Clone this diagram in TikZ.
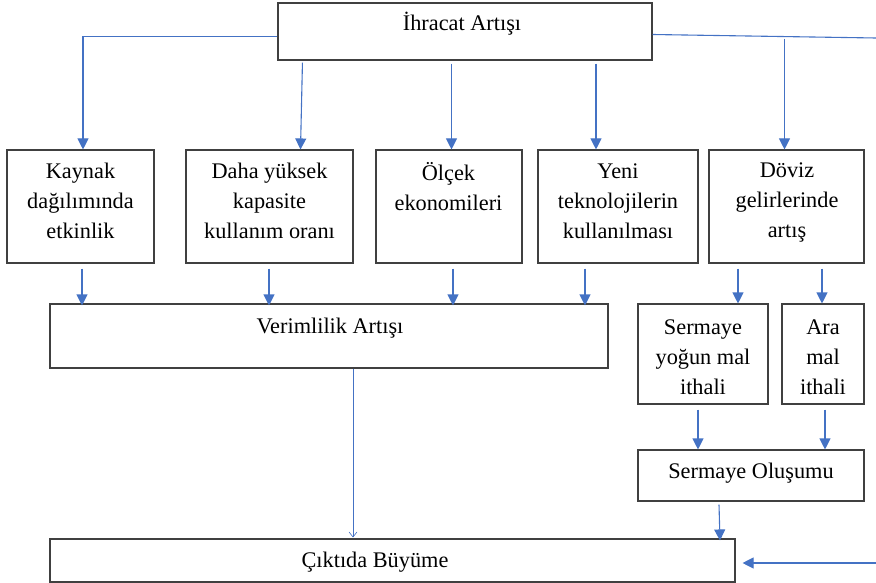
\documentclass[tikz,border=0pt]{standalone}
\usepackage{fontspec}
\setmainfont{Liberation Serif}
\usetikzlibrary{arrows.meta,calc}
\definecolor{arrblue}{HTML}{4472C4}
\definecolor{boxgray}{HTML}{404040}
\begin{document}
\begin{tikzpicture}[x=1pt,y=-1pt,
  box/.style={draw=boxgray, line width=1.1pt, inner sep=0pt, rectangle},
  txt/.style={align=center, inner sep=0pt, font=\fontsize{22.3}{30}\selectfont},
  arr/.style={draw=arrblue, line width=1.1pt, -{Triangle[width=11pt,length=11pt]}},
  thinarr/.style={draw=arrblue, line width=0.6pt, -{Straight Barb[width=8pt,length=5pt]}},
  ln/.style={draw=arrblue, line width=1.1pt}]
\useasboundingbox (0,0) rectangle (876,583);
% boxes
\node[box, minimum width=374pt, minimum height=57pt] (ihr) at (465,31.5) {};
\node[box, minimum width=147pt, minimum height=113pt] (kay) at (80.5,206.5) {};
\node[box, minimum width=167pt, minimum height=113pt] (dah) at (269.5,206.5) {};
\node[box, minimum width=146pt, minimum height=113pt] (olc) at (449,206.5) {};
\node[box, minimum width=160pt, minimum height=113pt] (yen) at (618,206.5) {};
\node[box, minimum width=155pt, minimum height=113pt] (dov) at (786.5,206.5) {};
\node[box, minimum width=558pt, minimum height=64pt] (ver) at (329,336) {};
\node[box, minimum width=130pt, minimum height=100pt] (sy) at (703,354) {};
\node[box, minimum width=82pt, minimum height=100pt] (ara) at (823,354) {};
\node[box, minimum width=226pt, minimum height=51pt] (so) at (751,475.5) {};
\node[box, minimum width=685pt, minimum height=43pt] (cik) at (392.5,560.5) {};
% texts
\node[txt] (ihrT) at (462,24) {İhracat Artışı};
\node[txt] (kayT) at (80.5,201) {Kaynak\\dağılımında\\etkinlik};
\node[txt] (dahT) at (269.5,201) {Daha yüksek\\kapasite\\kullanım oranı};
\node[txt] (olcT) at (448.5,187) {Ölçek\\ekonomileri};
\node[txt] (yenT) at (618,201) {Yeni\\teknolojilerin\\kullanılması};
\node[txt] (dovT) at (787,202) {Döviz\\gelirlerinde\\artış};
\node[txt] (verT) at (330,328) {Verimlilik Artışı};
\node[txt] (syT) at (703,357) {Sermaye\\yoğun mal\\ithali};
\node[txt] (araT) at (823,357) {Ara\\mal\\ithali};
\node[txt] (soT) at (751,473) {Sermaye Oluşumu};
\node[txt] (cikT) at (375,562) {Çıktıda Büyüme};
% free ends
\coordinate (rtop) at (876,38);
\coordinate (rbot) at (876,563);
% top level arrows
\draw[arr] ([yshift=-5pt]ihr.west) -| ([xshift=2.5pt]kay.north);
\draw[arr] ([shift={(25pt,-2pt)}]ihr.south west) -- ([xshift=31pt]dah.north);
\coordinate (a3) at ([xshift=2.5pt]olc.north);
\draw[arr] ($(ihr.south -| a3)+(0,3)$) -- (a3);
\coordinate (a4) at ([xshift=-22pt]yen.north);
\draw[arr] ($(ihr.south -| a4)+(0,3)$) -- (a4);
\draw[ln] ([yshift=-3pt]ihr.east) -- (rtop);
\coordinate (a5) at ([xshift=-2pt]dov.north);
\draw[arr] ($(a5 |- rtop)+(0,1)$) -- (a5);
% second row to Verimlilik
\draw[arr] ($(kay.south)+(1.5,5)$) -- ($(kay.south |- ver.north)+(1.5,2)$);
\draw[arr] ($(dah.south)+(-0.5,5)$) -- ($(dah.south |- ver.north)+(-0.5,2)$);
\draw[arr] ($(olc.south)+(4,5)$) -- ($(olc.south |- ver.north)+(4,2)$);
\draw[arr] ($(yen.south)+(-33,5)$) -- ($(yen.south |- ver.north)+(-33,2)$);
% Doviz to imports
\draw[arr] ($(dov.south -| sy.north)+(35,5)$) -- ($(sy.north)+(35,0)$);
\draw[arr] ($(dov.south -| ara.north)+(-1,5)$) -- ($(ara.north)+(-1,0)$);
% imports to Sermaye Olusumu
\draw[arr] ($(sy.south)+(-5,5)$) -- ($(sy.south |- so.north)+(-5,0)$);
\draw[arr] ($(ara.south)+(2,5)$) -- ($(ara.south |- so.north)+(2,0)$);
% to Ciktida Buyume
\draw[thinarr] ($(ver.south)+(24,0)$) -- ($(ver.south |- cik.north)+(24,-1)$);
\draw[arr] ($(so.south)+(-32,3)$) -- ($(so.south |- cik.north)+(-31,2)$);
\draw[arr] (rbot) -- ($(cik.east |- rbot)+(7,0)$);
\end{tikzpicture}
\end{document}
